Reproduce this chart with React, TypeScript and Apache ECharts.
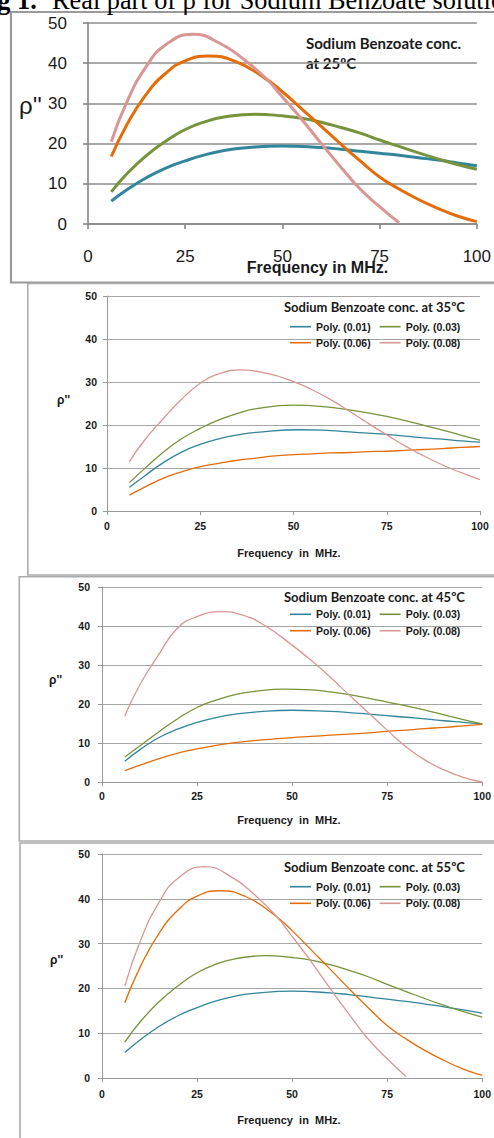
import React, { useEffect, useRef } from "react";
import * as echarts from "echarts";

// ---------- data (frequency in MHz, ρ'' values) ----------
const seriesNames = ["Poly. (0.01)", "Poly. (0.03)", "Poly. (0.06)", "Poly. (0.08)"];
const seriesColors = ["#31859C", "#77933C", "#E46C0A", "#D99694"];
const temperatures = ["25", "35", "45", "55"];

const xMin = 0, xMax = 100, xStep = 25;
const yMin = 0, yMax = 50, yStep = 10;

// 25 °C
const f25_001 = [6, 10, 15, 20, 25, 30, 35, 40, 50, 60, 65, 70, 75, 80, 85, 90, 95, 100];
const rho25_001 = [5.7, 8.5, 11.5, 13.9, 15.7, 17.2, 18.3, 18.9, 19.4, 19.0, 18.6, 18.1, 17.6, 17.1, 16.5, 15.9, 15.2, 14.5];
const f25_003 = [6, 10, 15, 20, 25, 30, 35, 43, 50, 55, 60, 65, 70, 75, 80, 85, 90, 95, 100];
const rho25_003 = [8.0, 12.5, 17.0, 20.6, 23.5, 25.4, 26.6, 27.3, 26.9, 26.3, 25.3, 24.0, 22.6, 20.9, 19.3, 17.7, 16.2, 14.8, 13.6];
const f25_006 = [6, 10, 15, 20, 25, 31, 38, 45, 50, 55, 60, 65, 70, 75, 80, 85, 90, 95, 100];
const rho25_006 = [16.8, 24.7, 32.3, 37.5, 40.6, 41.8, 40.4, 36.6, 32.9, 28.6, 24.3, 19.9, 15.7, 11.7, 8.7, 6.1, 3.9, 2.0, 0.6];
const f25_008 = [6, 10, 15, 20, 27, 34, 40, 46, 50, 55, 60, 65, 70, 75, 80];
const rho25_008 = [20.5, 30.4, 39.2, 44.6, 47.2, 44.9, 41.0, 36.0, 31.6, 26.0, 20.0, 14.2, 8.7, 4.3, 0.3];

// 35 °C
const f35_001 = [6, 10, 15, 20, 25, 30, 35, 40, 52, 60, 65, 70, 75, 80, 85, 90, 95, 100];
const rho35_001 = [5.5, 8.1, 11.2, 13.7, 15.5, 16.8, 17.7, 18.3, 18.9, 18.7, 18.4, 18.1, 17.8, 17.4, 17.0, 16.7, 16.3, 16.0];
const f35_003 = [6, 10, 15, 20, 25, 30, 35, 40, 50, 60, 65, 70, 75, 80, 85, 90, 95, 100];
const rho35_003 = [6.6, 9.8, 13.6, 16.8, 19.2, 21.2, 22.7, 23.8, 24.6, 24.1, 23.5, 22.8, 22.0, 21.0, 19.9, 18.8, 17.6, 16.5];
const f35_006 = [6, 10, 15, 20, 25, 30, 35, 40, 45, 50, 55, 60, 65, 70, 75, 80, 85, 90, 95, 100];
const rho35_006 = [3.7, 5.5, 7.6, 9.1, 10.3, 11.1, 11.8, 12.3, 12.8, 13.1, 13.3, 13.5, 13.6, 13.8, 13.9, 14.1, 14.3, 14.5, 14.8, 15.0];
const f35_008 = [6, 10, 15, 20, 25, 30, 36, 43, 50, 55, 60, 65, 70, 75, 80, 85, 90, 95, 100];
const rho35_008 = [11.5, 16.4, 21.4, 26.0, 29.7, 31.9, 32.8, 32.0, 30.1, 28.2, 25.9, 23.2, 20.4, 17.7, 15.1, 12.8, 10.7, 8.9, 7.3];

// 45 °C
const f45_001 = [6, 10, 15, 20, 25, 30, 35, 40, 50, 60, 65, 70, 75, 80, 85, 90, 95, 100];
const rho45_001 = [5.3, 8.3, 11.4, 13.6, 15.3, 16.5, 17.4, 17.9, 18.4, 18.1, 17.8, 17.4, 17.0, 16.6, 16.2, 15.7, 15.3, 14.9];
const f45_003 = [6, 10, 15, 20, 25, 30, 35, 40, 48, 55, 60, 65, 70, 75, 80, 85, 90, 95, 100];
const rho45_003 = [6.4, 9.3, 12.9, 16.3, 19.1, 21.0, 22.4, 23.2, 23.8, 23.6, 23.1, 22.4, 21.5, 20.5, 19.5, 18.4, 17.2, 16.0, 14.9];
const f45_006 = [6, 10, 15, 20, 25, 30, 35, 40, 45, 50, 55, 60, 65, 70, 75, 80, 85, 90, 95, 100];
const rho45_006 = [2.9, 4.3, 6.0, 7.4, 8.5, 9.4, 10.1, 10.6, 11.0, 11.4, 11.7, 12.0, 12.3, 12.6, 13.0, 13.3, 13.7, 14.0, 14.4, 14.8];
const f45_008 = [6, 10, 15, 20, 25, 31, 37, 43, 50, 55, 60, 65, 70, 75, 80, 85, 90, 95, 100];
const rho45_008 = [17.0, 25.0, 32.8, 39.6, 42.4, 43.7, 42.8, 40.0, 35.1, 31.2, 26.9, 22.3, 17.8, 13.3, 9.0, 5.6, 3.1, 1.2, 0.0];

// 55 °C (the figure shows the same trend lines as at 25 °C)
const f55_001 = f25_001, rho55_001 = rho25_001;
const f55_003 = f25_003, rho55_003 = rho25_003;
const f55_006 = f25_006, rho55_006 = rho25_006;
const f55_008 = f25_008, rho55_008 = rho25_008;

const panelX = [
  [f25_001, f25_003, f25_006, f25_008],
  [f35_001, f35_003, f35_006, f35_008],
  [f45_001, f45_003, f45_006, f45_008],
  [f55_001, f55_003, f55_006, f55_008],
];
const panelY = [
  [rho25_001, rho25_003, rho25_006, rho25_008],
  [rho35_001, rho35_003, rho35_006, rho35_008],
  [rho45_001, rho45_003, rho45_006, rho45_008],
  [rho55_001, rho55_003, rho55_006, rho55_008],
];

// ---------- layout ----------
const W = 494, H = 1138;
const SANS = "'Liberation Sans', Arial, sans-serif";
const CAL = "Lato, 'Open Sans', sans-serif";
const SERIF = "'Liberation Serif', 'Times New Roman', serif";

const grids = [
  { left: 88, top: 23, width: 395, height: 201 },
  { left: 107, top: 296, width: 373, height: 215 },
  { left: 102, top: 587, width: 385, height: 195 },
  { left: 102, top: 854, width: 383, height: 224 },
];
const yLabelMargin = [21, 10, 12, 12];
const xLabelMargin = [24, 9, 8, 10];
const frames = [
  { x: 11, y: 12, h: 270.5, w: 2.2, c: "#9a9a9a" },
  { x: 27.8, y: 283.5, h: 291.5, w: 1.6, c: "#ababab" },
  { x: 19.3, y: 576.8, h: 264.2, w: 1.6, c: "#ababab" },
  { x: 20, y: 843, h: 400, w: 1.6, c: "#ababab" },
];
const legendTitleY = [0, 307, 596.7, 866.7];
const legendRowY = [[0, 0], [326.7, 342.7], [614.3, 630.7], [886.7, 903.3]];
const freqTitleY = [267, 553, 820, 1120];
const rhoY = [105, 400, 680, 960];
const rhoX = [19, 57, 49, 50];

function buildOption() {
  const xAxis: any[] = [];
  const yAxis: any[] = [];
  const series: any[] = [];
  const legend: any[] = [];
  const graphic: any[] = [];

  grids.forEach((g, p) => {
    const big = p === 0;
    const axisColor = big ? "#868686" : "#9a9a9a";
    xAxis.push({
      type: "value", gridIndex: p, min: xMin, max: xMax, interval: xStep,
      axisLine: { show: true, onZero: false, lineStyle: { color: axisColor, width: big ? 1.6 : 1 } },
      axisTick: { show: true, length: big ? 5 : 4, lineStyle: { color: axisColor, width: big ? 1.6 : 1 } },
      splitLine: { show: false },
      axisLabel: {
        margin: xLabelMargin[p], color: "#1a1a1a", fontFamily: SANS,
        fontSize: big ? 17 : 10.5, fontWeight: big ? "normal" : "bold",
        showMinLabel: true, showMaxLabel: true,
      },
    });
    yAxis.push({
      type: "value", gridIndex: p, min: yMin, max: yMax, interval: yStep,
      axisLine: { show: true, lineStyle: { color: axisColor, width: big ? 1.6 : 1 } },
      axisTick: { show: true, length: big ? 5 : 4, lineStyle: { color: axisColor, width: big ? 1.6 : 1 } },
      splitLine: { show: true, lineStyle: { color: big ? "#8c8c8c" : "#a6a6a6", width: big ? 1.6 : 1 } },
      axisLabel: {
        margin: yLabelMargin[p], color: "#1a1a1a", fontFamily: SANS,
        fontSize: big ? 17 : 10.5, fontWeight: big ? "normal" : "bold",
      },
    });
    panelY[p].forEach((ys, s) => {
      const xs = panelX[p][s];
      series.push({
        type: "line", name: seriesNames[s], xAxisIndex: p, yAxisIndex: p,
        data: ys.map((y, i) => [xs[i], y]),
        smooth: true, symbol: "none", silent: true,
        lineStyle: { color: seriesColors[s], width: big ? 3 : 1.3 },
        itemStyle: { color: seriesColors[s] },
      });
    });

    const f = frames[p];
    graphic.push({
      type: "rect", silent: true,
      shape: { x: f.x, y: f.y, width: 600, height: f.h },
      style: { fill: "none", stroke: f.c, lineWidth: f.w },
    });
    graphic.push({
      type: "text", x: rhoX[p], y: rhoY[p],
      style: {
        text: "ρ''", fill: "#1a1a1a", fontFamily: SANS,
        fontSize: big ? 24 : 12, fontWeight: big ? "normal" : "bold",
        align: "left", verticalAlign: "middle",
      },
    });
    graphic.push({
      type: "text", x: big ? 317.5 : 289, y: freqTitleY[p],
      style: {
        text: big ? "Frequency in MHz." : "Frequency  in  MHz.", fill: "#1a1a1a", fontFamily: SANS,
        fontSize: big ? 16 : 11, fontWeight: "bold",
        align: "center", verticalAlign: "middle",
      },
    });

    if (big) {
      graphic.push({
        type: "text", x: 306, y: 43,
        style: { text: "Sodium Benzoate conc.", fill: "#1a1a1a", fontFamily: CAL, fontSize: 15, fontWeight: "bold", align: "left", verticalAlign: "middle" },
      });
      graphic.push({
        type: "text", x: 306, y: 63,
        style: { text: "at " + temperatures[p] + "ºC", fill: "#1a1a1a", fontFamily: CAL, fontSize: 15, fontWeight: "bold", align: "left", verticalAlign: "middle" },
      });
    } else {
      graphic.push({
        type: "text", x: 284, y: legendTitleY[p],
        style: { text: "Sodium Benzoate conc. at " + temperatures[p] + "ºC", fill: "#1a1a1a", fontFamily: CAL, fontSize: 13, fontWeight: "bold", align: "left", verticalAlign: "middle" },
      });
      [0, 1].forEach((r) => {
        legend.push({
          left: 290, top: legendRowY[p][r] - 6, padding: 0, orient: "horizontal",
          icon: "rect", itemWidth: 21, itemHeight: 1.6, itemGap: 9, selectedMode: false,
          data: [seriesNames[r * 2], seriesNames[r * 2 + 1]],
          textStyle: { fontFamily: SANS, fontWeight: "bold", fontSize: 10.5, color: "#1a1a1a", lineHeight: 12 },
        });
      });
    }
  });

  // cropped figure caption at the very top
  graphic.push({
    type: "text", x: -26, y: 0.5,
    style: { text: "Fig 1.", fill: "#000", fontFamily: SERIF, fontSize: 26.3, fontWeight: "bold", align: "left", verticalAlign: "middle" },
  });
  graphic.push({
    type: "text", x: 52, y: 0.5,
    style: { text: "Real part of ρ for Sodium Benzoate solution", fill: "#000", fontFamily: SERIF, fontSize: 26.3, align: "left", verticalAlign: "middle" },
  });

  return {
    animation: false,
    backgroundColor: "#ffffff",
    grid: grids.map((g) => ({ ...g, containLabel: false })),
    xAxis, yAxis, series, legend, graphic,
  };
}

export default function App() {
  const ref = useRef<HTMLDivElement>(null);
  useEffect(() => {
    if (!ref.current) return;
    const chart = echarts.init(ref.current, undefined, { renderer: "svg" });
    chart.setOption(buildOption() as any);
    return () => chart.dispose();
  }, []);
  return (
    <div
      ref={ref}
      style={{ position: "absolute", left: 0, top: 0, width: W, height: H, background: "#fff" }}
    />
  );
}
